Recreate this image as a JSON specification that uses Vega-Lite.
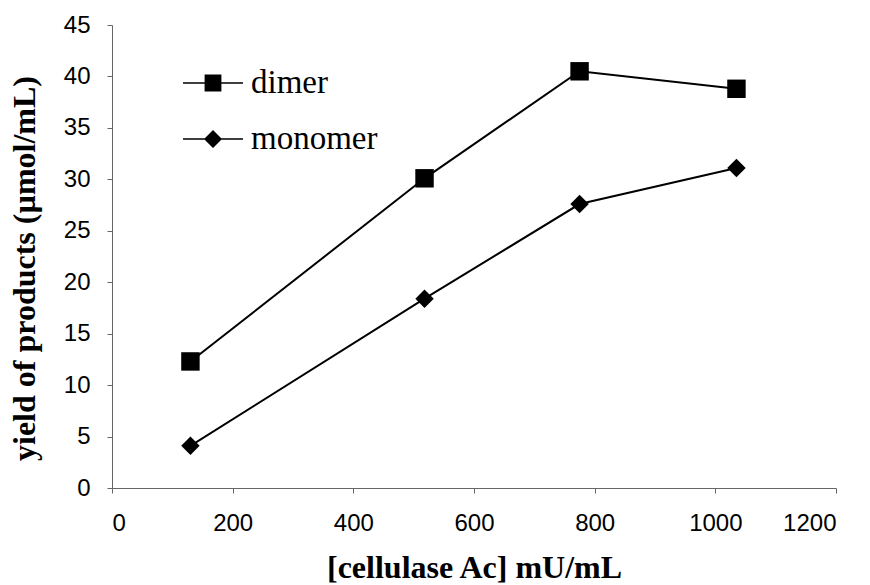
{
  "$schema": "https://vega.github.io/schema/vega-lite/v6.json",
  "width": 724,
  "height": 463,
  "autosize": {"type": "none"},
  "padding": {"left": 112, "top": 25, "right": 34, "bottom": 97},
  "background": "white",
  "config": {
    "view": {"stroke": null},
    "axis": {
      "grid": false,
      "domainColor": "#666666",
      "domainWidth": 1,
      "tickColor": "#666666",
      "tickWidth": 1,
      "tickSize": 5,
      "labelFont": "Liberation Sans",
      "labelFontSize": 24,
      "labelColor": "black",
      "titleFont": "Liberation Serif",
      "titleFontSize": 32,
      "titleFontWeight": "bold",
      "titleColor": "black"
    }
  },
  "data": {
    "values": [
      {"activity": 130, "yield": 12.3, "product": "dimer"},
      {"activity": 518, "yield": 30.1, "product": "dimer"},
      {"activity": 775, "yield": 40.5, "product": "dimer"},
      {"activity": 1035, "yield": 38.8, "product": "dimer"},
      {"activity": 130, "yield": 4.1, "product": "monomer"},
      {"activity": 518, "yield": 18.4, "product": "monomer"},
      {"activity": 775, "yield": 27.6, "product": "monomer"},
      {"activity": 1035, "yield": 31.1, "product": "monomer"}
    ]
  },
  "encoding": {
    "x": {
      "field": "activity",
      "type": "quantitative",
      "scale": {"domain": [0, 1200], "nice": false},
      "axis": {"values": [0, 200, 400, 600, 800, 1000, 1200], "format": "d", "labelPadding": 18, "title": "[cellulase Ac] mU/mL", "titleY": 64}
    },
    "y": {
      "field": "yield",
      "type": "quantitative",
      "scale": {"domain": [0, 45], "nice": false},
      "axis": {"values": [0, 5, 10, 15, 20, 25, 30, 35, 40, 45], "format": "d", "labelPadding": 17, "title": "yield of products (µmol/mL)", "titleX": -71, "titleY": 243}
    }
  },
  "layer": [
    {
      "mark": {"type": "line", "color": "black", "strokeWidth": 2},
      "encoding": {"detail": {"field": "product"}}
    },
    {
      "mark": {"type": "point", "filled": true, "color": "black", "opacity": 1, "size": 340},
      "encoding": {
        "shape": {
          "field": "product",
          "type": "nominal",
          "scale": {"domain": ["dimer", "monomer"], "range": ["square", "diamond"]},
          "legend": null
        }
      }
    },
    {
      "transform": [{"filter": "false"}],
      "mark": {"type": "point", "filled": true, "color": "black", "opacity": 1},
      "encoding": {
        "shape": {
          "field": "product",
          "type": "nominal",
          "scale": {
            "domain": ["dimer", "monomer"],
            "range": [
              "M-1,-0.025H1V0.025H-1ZM-0.28,-0.28H0.28V0.28H-0.28Z",
              "M-1,-0.025H1V0.025H-1ZM-0.3,0L0,-0.3L0.3,0L0,0.3Z"
            ]
          },
          "legend": {
            "orient": "none",
            "legendX": 70,
            "legendY": 27,
            "title": null,
            "padding": 0,
            "rowPadding": 8,
            "symbolSize": 3600,
            "symbolFillColor": "black",
            "labelFont": "Liberation Serif",
            "labelFontSize": 33,
            "labelColor": "black",
            "labelOffset": 7
          }
        }
      }
    }
  ],
  "resolve": {"scale": {"shape": "independent"}}
}
